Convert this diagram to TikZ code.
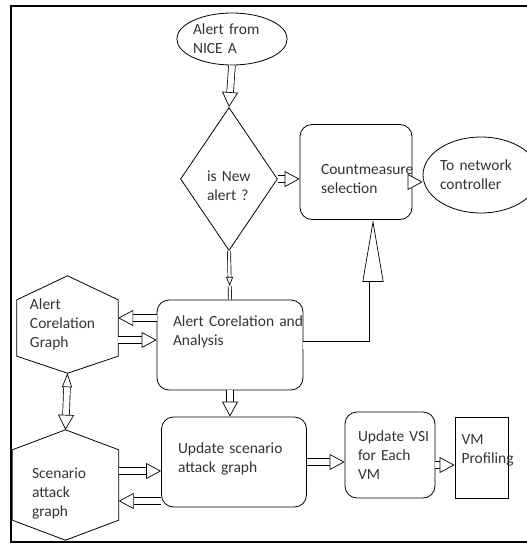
\documentclass[tikz,border=0pt]{standalone}
\usepackage{fontspec}
\setmainfont{Carlito}
\usetikzlibrary{arrows.meta, shapes.geometric, positioning}

\begin{document}
\begin{tikzpicture}[x=1pt, y=-1pt,
        every node/.style={align=left, inner sep=0pt, text=black!80, font=\fontsize{15.5}{19}\selectfont},
        box/.style={draw, rounded corners=12pt, line width=0.8pt},
        hollow/.style={double, double distance=6pt, line width=0.7pt,
            -{Triangle[fill=white, length=15pt, width=16pt, line width=0.7pt]}},
        thinhollow/.style={double, double distance=2.5pt, line width=0.7pt,
            -{Triangle[fill=white, length=9pt, width=7pt, line width=0.7pt]}}]
        \useasboundingbox (0,0) rectangle (527,544);

        % frame, open on the right
        \draw[line width=2.6pt] (545,6) -- (11,6) -- (11,542) -- (545,542);

        % top part
        \node[draw, ellipse, line width=0.8pt, minimum width=100pt, minimum height=52pt, text width=78pt] (alert) at (232,39) {Alert from\\NICE A};
        \node[draw, diamond, aspect=0.68, line width=0.8pt, minimum width=97pt, minimum height=143pt, text width=44pt, text height=25pt] (isnew) at (229,179) {is New\\alert ?};
        \node[box, minimum width=112pt, minimum height=95pt, text height=25pt, text width=70pt] (cm) at (356,172) {Countmeasure\\selection};
        \node[draw, ellipse, line width=0.8pt, minimum width=90pt, minimum height=76pt, text width=82pt] (net) at (481,175) {\mbox{To network}\\controller};

        % middle and bottom part
        \node[box, minimum width=146pt, minimum height=90pt, text depth=47pt, text width=114pt] (aca) at (230,345) {\mbox{Alert Corelation and}\\Analysis};
        \node[box, minimum width=145pt, minimum height=90pt, text depth=27pt, text width=112pt] (usa) at (234,462) {Update scenario\\attack graph};
        \node[box, minimum width=90pt, minimum height=86pt, text width=64pt] (vsi) at (390,455) {\mbox{Update VSI}\\for Each\\VM};
        \node[draw, line width=0.8pt, minimum width=53pt, minimum height=81pt, text depth=36pt, text width=40pt] (vmp) at (481.5,457.5) {VM\\Profiling};

        % hexagons
        \node[minimum width=101pt, minimum height=97pt, text width=75pt] (acg) at (67.5,324.5) {Alert\\Corelation\\Graph};
        \node[minimum width=106pt, minimum height=110pt, text height=28pt, text width=67pt] (sag) at (65.5,485) {Scenario\\attack\\graph};
        \foreach \n/\up/\down in {acg/24/17, sag/20/20} {
            \draw[line width=0.8pt] (\n.north) -- ([yshift=-\up pt]\n.north east) -- ([yshift=\down pt]\n.south east)
                -- (\n.south) -- ([yshift=\down pt]\n.south west) -- ([yshift=-\up pt]\n.north west) -- cycle;
        }

        % connectors
        \draw[hollow] (alert.south) -- (isnew.north);
        \draw[hollow] (isnew.east) -- (isnew.east -| cm.west);
        \draw[hollow] ([yshift=-10pt]cm.east) -- ([yshift=-10pt]cm.east -| net.west);

        \path (isnew.south) -- (aca.north) coordinate[pos=0.72] (tip);
        \draw[thinhollow] (isnew.south) -- (tip);
        \draw[double, double distance=2.5pt, line width=0.7pt] (tip) -- (aca.north);

        \draw[double, double distance=7pt, line width=0.7pt,
            -{Triangle[fill=white, length=62pt, width=21pt, line width=0.7pt]}]
            (aca.east) -| ([xshift=17pt]cm.south);

        \draw[hollow] ([yshift=27pt]aca.west) -- ([yshift=27pt]aca.west -| acg.east);
        \draw[hollow] ([yshift=5pt]aca.west -| acg.east) -- ([yshift=5pt]aca.west);
        \draw[hollow] (aca.south) -- (aca.south |- usa.north);

        \draw[hollow, {Triangle[fill=white, length=14pt, width=10pt, line width=0.7pt]}-{Triangle[fill=white, length=15pt, width=16pt, line width=0.7pt]}]
            (acg.south) -- (sag.north);

        \draw[hollow] ([yshift=-9pt]usa.west -| sag.east) -- ([yshift=-9pt]usa.west);
        \draw[hollow] ([yshift=-39pt]usa.west) -- ([yshift=-39pt]usa.west -| sag.east);
        \draw[hollow] (usa.east) -- (usa.east -| vsi.west);
        \draw[hollow] ([yshift=-10pt]vsi.east) -- ([yshift=-10pt]vsi.east -| vmp.west);
\end{tikzpicture}
\end{document}
